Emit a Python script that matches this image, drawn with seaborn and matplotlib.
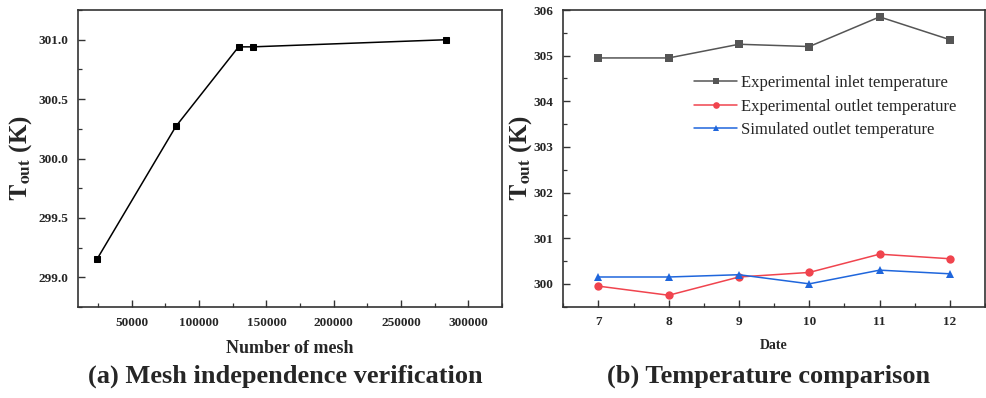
import matplotlib
matplotlib.use("Agg")
import matplotlib.pyplot as plt
from matplotlib.ticker import MultipleLocator, AutoMinorLocator, FormatStrFormatter
import seaborn as sns
import pandas as pd

# Mesh independence study
mesh_counts = [24000, 82700, 129300, 139700, 283600]
mesh_tout = [299.15, 300.27, 300.94, 300.94, 301.00]

# Daily temperature comparison
dates = [7, 8, 9, 10, 11, 12]
inlet_exp = [304.95, 304.95, 305.25, 305.20, 305.85, 305.35]
outlet_exp = [299.95, 299.75, 300.15, 300.25, 300.65, 300.55]
outlet_sim = [300.15, 300.15, 300.20, 300.00, 300.30, 300.22]

series_labels = ["Experimental inlet temperature",
                 "Experimental outlet temperature",
                 "Simulated outlet temperature"]

sns.set_theme(style="ticks")
plt.rcParams["font.family"] = ["Liberation Serif", "DejaVu Serif"]
plt.rcParams["mathtext.fontset"] = "stix"

fig = plt.figure(figsize=(9.87, 3.98), dpi=100)
ax1 = fig.add_axes([0.079, 0.2286, 0.4296, 0.7462])
ax2 = fig.add_axes([0.5707, 0.2295, 0.4273, 0.7453])


def style_axes(ax):
    for sp in ax.spines.values():
        sp.set_linewidth(1.2)
        sp.set_color("#333333")
    ax.tick_params(which="both", direction="in", top=False, right=False,
                   color="#333333")
    ax.tick_params(which="major", length=5, width=1.0, pad=7)
    ax.tick_params(which="minor", length=3, width=0.9)
    for lab in ax.get_xticklabels() + ax.get_yticklabels():
        lab.set_fontsize(9.5)
        lab.set_fontweight("bold")


# (a) mesh independence
df_mesh = pd.DataFrame({"mesh": mesh_counts, "tout": mesh_tout})
sns.lineplot(data=df_mesh, x="mesh", y="tout", ax=ax1, color="black",
             marker="s", markersize=5, linewidth=1.1, markeredgecolor="black")
ax1.set_xlim(10000, 325000)
ax1.set_ylim(298.75, 301.25)
ax1.xaxis.set_major_locator(MultipleLocator(50000))
ax1.xaxis.set_minor_locator(AutoMinorLocator(2))
ax1.yaxis.set_major_locator(MultipleLocator(0.5))
ax1.yaxis.set_minor_locator(AutoMinorLocator(2))
ax1.yaxis.set_major_formatter(FormatStrFormatter("%.1f"))
style_axes(ax1)
ax1.set_xlabel("Number of mesh", fontsize=13, fontweight="bold", labelpad=8)
ax1.set_ylabel(r"$\mathbf{T_{out}}$ (K)", fontsize=18, fontweight="bold",
               labelpad=3)

# (b) temperature comparison
df_temp = pd.DataFrame({"date": dates * 3,
                        "temp": inlet_exp + outlet_exp + outlet_sim,
                        "series": [series_labels[0]] * 6
                        + [series_labels[1]] * 6
                        + [series_labels[2]] * 6})
palette = {series_labels[0]: "#555555",
           series_labels[1]: "#f0444e",
           series_labels[2]: "#1f66dc"}
markers = {series_labels[0]: "s", series_labels[1]: "o", series_labels[2]: "^"}
sns.lineplot(data=df_temp, x="date", y="temp", hue="series", style="series",
             palette=palette, markers=markers, dashes=False, ax=ax2,
             markersize=6, linewidth=1.1, markeredgewidth=0)
ax2.set_xlim(6.5, 12.5)
ax2.set_ylim(299.5, 306)
ax2.xaxis.set_major_locator(MultipleLocator(1))
ax2.xaxis.set_minor_locator(AutoMinorLocator(2))
ax2.yaxis.set_major_locator(MultipleLocator(1))
ax2.yaxis.set_minor_locator(AutoMinorLocator(2))
style_axes(ax2)
ax2.set_xlabel("Date", fontsize=10, fontweight="bold", labelpad=8)
ax2.set_ylabel(r"$\mathbf{T_{out}}$ (K)", fontsize=18, fontweight="bold",
               labelpad=0)
leg = ax2.legend(loc="upper left", bbox_to_anchor=(0.31, 0.78),
                 frameon=False, fontsize=12, handlelength=2.6,
                 handletextpad=0.2, labelspacing=0.45, borderpad=0,
                 borderaxespad=0, markerscale=0.8)

# panel captions
fig.text(0.289, 0.04, "(a) Mesh independence verification", ha="center",
         va="baseline", fontsize=19, fontweight="bold")
fig.text(0.779, 0.04, "(b) Temperature comparison", ha="center",
         va="baseline", fontsize=19, fontweight="bold")

fig.savefig("out.png", dpi=100)
